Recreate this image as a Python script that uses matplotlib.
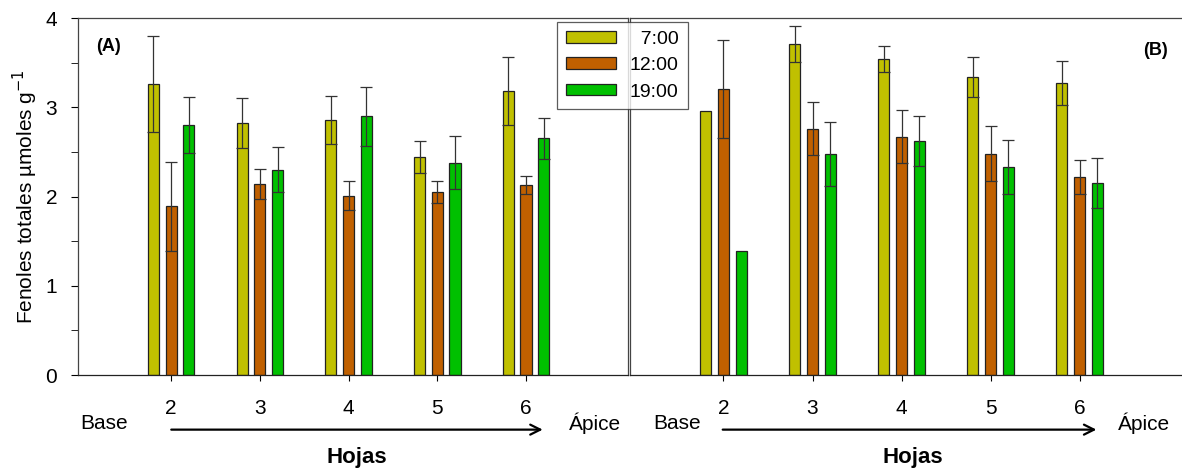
import numpy as np
import matplotlib.pyplot as plt
from matplotlib.patches import Patch

plt.rcParams['font.family'] = ['Liberation Sans', 'DejaVu Sans']

hojas = [2, 3, 4, 5, 6]
horas = ['7:00', '12:00', '19:00']
colores = ['#C0C000', '#C06000', '#00C000']

# panel (A): means and standard errors per leaf
a_7 = [3.26, 2.82, 2.86, 2.44, 3.18]
a_12 = [1.89, 2.14, 2.01, 2.05, 2.13]
a_19 = [2.80, 2.30, 2.90, 2.38, 2.65]
a_7_err = [0.54, 0.28, 0.27, 0.18, 0.38]
a_12_err = [0.50, 0.17, 0.16, 0.12, 0.10]
a_19_err = [0.31, 0.25, 0.33, 0.30, 0.23]

# panel (B)
b_7 = [2.96, 3.71, 3.54, 3.34, 3.27]
b_12 = [3.20, 2.76, 2.67, 2.48, 2.22]
b_19 = [1.39, 2.48, 2.62, 2.33, 2.15]
b_7_err = [0.0, 0.20, 0.15, 0.22, 0.25]
b_12_err = [0.55, 0.30, 0.30, 0.31, 0.19]
b_19_err = [0.0, 0.36, 0.28, 0.30, 0.28]

fig = plt.figure(figsize=(11.82, 4.70), dpi=100)
ax_a = fig.add_axes([0.0660, 0.2021, 0.4653, 0.7596])
ax_b = fig.add_axes([0.5330, 0.2021, 0.4670, 0.7596])

x = np.array(hojas, dtype=float)
offsets = [-0.2, 0.0, 0.2]
width = 0.125
edge = '#222222'


def draw_panel(ax, series, errs, tag, tag_xy, base_x, apice_x, arrow_x, hojas_x):
    for off, vals, err, col in zip(offsets, series, errs, colores):
        ax.bar(x + off, vals, width=width, color=col, edgecolor=edge, linewidth=0.9)
        e = np.array(err)
        mask = e > 0
        ax.errorbar((x + off)[mask], np.array(vals)[mask], yerr=e[mask], fmt='none',
                    ecolor='#333333', elinewidth=0.9, capsize=4, capthick=0.9)
    ax.set_xlim(0.95, 7.15)
    ax.set_ylim(0, 4)
    ax.set_xticks(hojas)
    ax.set_xticklabels([str(h) for h in hojas], fontsize=15)
    ax.tick_params(axis='x', direction='out', length=4, pad=13)
    for s in ax.spines.values():
        s.set_linewidth(0.9)
        s.set_color('#444444')
    ax.spines['bottom'].set_color('#222222')
    ax.text(tag_xy[0], tag_xy[1], tag, transform=ax.transAxes, fontsize=13,
            fontweight='bold', ha='center', va='center')
    tr = ax.get_xaxis_transform()
    ax.text(base_x, -0.135, 'Base', transform=tr, fontsize=15, ha='center', va='center')
    ax.text(apice_x, -0.135, 'Ápice', transform=tr, fontsize=15, ha='center', va='center')
    ax.annotate('', xy=(arrow_x[1], -0.153), xytext=(arrow_x[0], -0.153),
                xycoords=tr, textcoords=tr, annotation_clip=False,
                arrowprops=dict(arrowstyle='->', color='black', lw=1.6,
                                mutation_scale=18))
    ax.text(hojas_x, -0.232, 'Hojas', transform=tr, fontsize=16, fontweight='bold',
            ha='center', va='center')


draw_panel(ax_a, [a_7, a_12, a_19], [a_7_err, a_12_err, a_19_err], '(A)', (0.055, 0.92),
           1.24, 6.78, (1.97, 6.22), 4.09)
draw_panel(ax_b, [b_7, b_12, b_19], [b_7_err, b_12_err, b_19_err], '(B)', (0.952, 0.91),
           1.48, 6.72, (1.96, 6.22), 4.13)

ax_a.set_yticks([0, 1, 2, 3, 4])
ax_a.set_yticks(np.arange(0.5, 4, 1.0), minor=True)
ax_a.set_yticklabels(['0', '1', '2', '3', '4'], fontsize=15)
ax_a.tick_params(axis='y', which='both', direction='out', length=5, pad=10)
ax_a.set_ylabel('Fenoles totales µmoles g$^{-1}$', fontsize=15, labelpad=4)
ax_b.set_yticks([])
ax_b.spines['right'].set_visible(False)

handles = [Patch(facecolor=c, edgecolor=edge, linewidth=0.9) for c in colores]
labels = ['  7:00', '12:00', '19:00']
leg = fig.legend(handles, labels, loc='upper left', bbox_to_anchor=(0.4712, 0.953),
                 borderaxespad=0, fontsize=14, frameon=True, fancybox=False,
                 edgecolor='#333333', handlelength=2.6, handleheight=0.55,
                 handletextpad=0.7, labelspacing=0.48, borderpad=0.45)
leg.get_frame().set_linewidth(0.9)

fig.savefig('out.png', dpi=100)
